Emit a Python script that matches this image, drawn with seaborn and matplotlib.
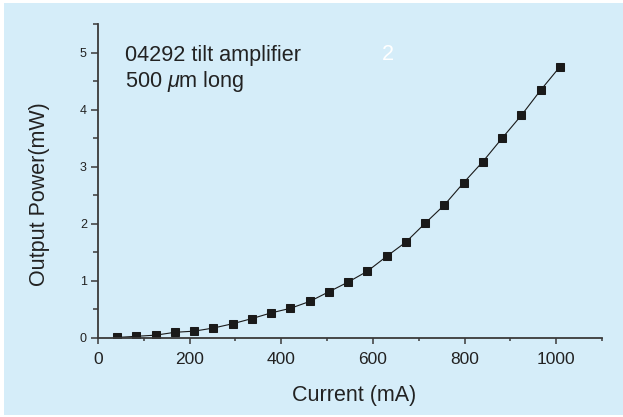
import numpy as np
import pandas as pd
import matplotlib
matplotlib.use("Agg")
import matplotlib.pyplot as plt
from matplotlib.patches import Rectangle
from matplotlib.ticker import MultipleLocator
import seaborn as sns

current_mA = [42, 84, 126, 168, 210, 252, 294, 336, 378, 420, 462, 504,
              546, 588, 630, 672, 714, 756, 798, 840, 882, 924, 966, 1008]
power_mW = [0.01, 0.03, 0.05, 0.10, 0.12, 0.175, 0.25, 0.34, 0.44, 0.52, 0.64, 0.81,
            0.98, 1.17, 1.43, 1.68, 2.01, 2.33, 2.72, 3.09, 3.50, 3.90, 4.34, 4.75]
x_ticks = [0, 200, 400, 600, 800, 1000]
y_ticks = [0, 1, 2, 3, 4, 5]

df = pd.DataFrame({"Current (mA)": current_mA, "Output Power(mW)": power_mW})

sns.set_style("ticks")
plt.rcParams["font.family"] = ["Liberation Sans", "DejaVu Sans"]
plt.rcParams["mathtext.fontset"] = "custom"
plt.rcParams["mathtext.it"] = "Liberation Sans:italic"

BG = "#D5EDF9"
TXT = "#222222"
W, H = 623, 417
fig = plt.figure(figsize=(W / 100, H / 100), dpi=100, facecolor="white")
fig.patches.append(Rectangle((4 / W, 2 / H), 1 - 4 / W, 1 - 5 / H,
                             transform=fig.transFigure, facecolor=BG,
                             edgecolor="none", zorder=-10))
ax = fig.add_axes([98 / W, 1 - 338 / H, (602 - 98) / W, (338 - 24) / H])
ax.set_facecolor("none")

sns.lineplot(data=df, x="Current (mA)", y="Output Power(mW)", ax=ax,
             color="#1a1a1a", linewidth=0.8, marker="s", markersize=6,
             markerfacecolor="#1a1a1a", markeredgecolor="#1a1a1a")

ax.set_xlim(0, 1100)
ax.set_ylim(0, 5.5)
ax.set_xticks(x_ticks)
ax.set_yticks(y_ticks)
ax.xaxis.set_minor_locator(MultipleLocator(100))
ax.yaxis.set_minor_locator(MultipleLocator(0.5))

spine_c = "#3a3a3a"
for s in ["top", "right"]:
    ax.spines[s].set_visible(False)
for s in ["left", "bottom"]:
    ax.spines[s].set_color(spine_c)
    ax.spines[s].set_linewidth(1.3)

ax.tick_params(axis="x", which="major", length=4.5, width=1.1, color=spine_c,
               labelsize=12.5, labelcolor=TXT, pad=5.5)
ax.tick_params(axis="x", which="minor", length=2.5, width=1.1, color=spine_c)
ax.tick_params(axis="y", which="major", length=5, width=1.1, color=spine_c,
               labelsize=9, labelcolor=TXT, pad=3)
ax.tick_params(axis="y", which="minor", length=3.5, width=1.1, color=spine_c)

ax.set_xlabel("")
ax.set_ylabel("")
fig.text(354 / W, 1 - 395 / H, "Current (mA)", fontsize=15.5, color=TXT,
         va="center", ha="center")
fig.text(40 / W, 1 - 194 / H, "Output Power(mW)", fontsize=15.5, color=TXT,
         va="center", ha="center", rotation=90)

fig.text(125 / W, 1 - 55 / H, "04292 tilt amplifier", fontsize=15.6,
         color=TXT, va="center", ha="left")
fig.text(125 / W, 1 - 82 / H, r"500 $\mathit{\mu}$m long", fontsize=15.6,
         color=TXT, va="center", ha="left")
fig.text(388 / W, 1 - 55 / H, "2", fontsize=15.6, color="white",
         va="center", ha="center")

fig.savefig("out.png", dpi=100, facecolor="white")
